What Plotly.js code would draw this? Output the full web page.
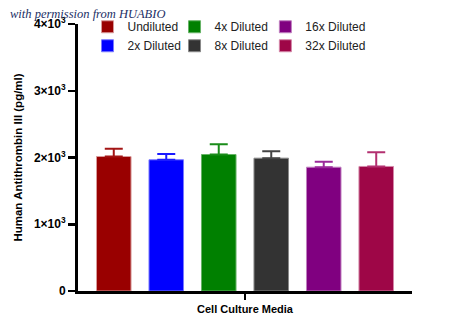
<!DOCTYPE html>
<html>
<head>
<meta charset="utf-8">
<script src="https://cdn.plot.ly/plotly-3.0.1.min.js"></script>
<style>html,body{margin:0;padding:0;background:#fff;}#chart{width:450px;height:331px;}</style>
</head>
<body>
<div id="chart"></div>
<script>
var category = ["Cell Culture Media"];
var seriesNames = ["Undiluted", "2x Diluted", "4x Diluted", "8x Diluted", "16x Diluted", "32x Diluted"];
var seriesValues = [2015, 1966, 2045, 1990, 1855, 1866];
var seriesErrors = [115, 85, 155, 105, 82, 214];
var legendIds = ["legend", "legend", "legend2", "legend2", "legend3", "legend3"];
var barColors = ["#990000", "#0000ff", "#008000", "#333333", "#800080", "#9e0647"];
var outlineColors = ["#d89a9a", "#7a7aff", "#66b366", "#8a8a8a", "#c080c0", "#d487a8"];
var errorColors = ["#a31515", "#1a1aff", "#1a8c1a", "#444444", "#9a2a9a", "#b33070"];
var yTickVals = [0, 1000, 2000, 3000, 4000];
var yTickText = ["0", "1×10<sup>3</sup>", "2×10<sup>3</sup>", "3×10<sup>3</sup>", "4×10<sup>3</sup>"];

var traces = seriesNames.map(function (name, i) {
  return {
    type: "bar",
    name: name,
    x: category,
    y: [seriesValues[i]],
    legend: legendIds[i],
    marker: { color: barColors[i], line: { color: outlineColors[i], width: 1 } },
    error_y: {
      type: "data", symmetric: false,
      array: [seriesErrors[i]], arrayminus: [0],
      color: errorColors[i], thickness: 2, width: 9
    },
    hoverinfo: "skip"
  };
});

function makeLegend(x) {
  return {
    orientation: "v", x: x, xanchor: "left", y: 1.044, yanchor: "top",
    font: { size: 12, color: "#222" },
    bgcolor: "rgba(0,0,0,0)", borderwidth: 0,
    traceorder: "normal", tracegroupgap: 0
  };
}

var layout = {
  width: 450, height: 331,
  margin: { l: 78, r: 38, t: 24, b: 40, autoexpand: false },
  paper_bgcolor: "#ffffff", plot_bgcolor: "#ffffff",
  font: { family: "Liberation Sans, Arial, sans-serif", color: "#000" },
  barmode: "group",
  bargap: 0.057,
  bargroupgap: 0.342,
  showlegend: true,
  legend: makeLegend(0.0285),
  legend2: makeLegend(0.289),
  legend3: makeLegend(0.561),
  xaxis: {
    type: "category",
    showline: true, linecolor: "#000", linewidth: 3,
    ticks: "outside", ticklen: 6, tickwidth: 2.5, tickcolor: "#000",
    tickfont: { size: 11, weight: "bold", color: "#000" },
    showgrid: false, zeroline: false, fixedrange: true
  },
  yaxis: {
    range: [0, 4000],
    tickmode: "array", tickvals: yTickVals, ticktext: yTickText,
    showline: true, linecolor: "#000", linewidth: 3,
    ticks: "outside", ticklen: 7, tickwidth: 2.5, tickcolor: "#000",
    tickfont: { size: 12, weight: "bold", color: "#000" },
    showgrid: false, zeroline: false, fixedrange: true,
    title: { text: "Human Antithrombin III (pg/ml)", font: { size: 11.5, weight: "bold", color: "#000" }, standoff: 9 }
  },
  annotations: [{
    text: "with permission from HUABIO",
    xref: "paper", yref: "paper", x: -0.21, y: 1.036, xanchor: "left", yanchor: "middle",
    showarrow: false,
    font: { family: "Liberation Serif, DejaVu Serif, serif", size: 12.5, style: "italic", color: "#1c2f66" }
  }]
};

Plotly.newPlot("chart", traces, layout, { displayModeBar: false, staticPlot: true });
</script>
</body>
</html>
